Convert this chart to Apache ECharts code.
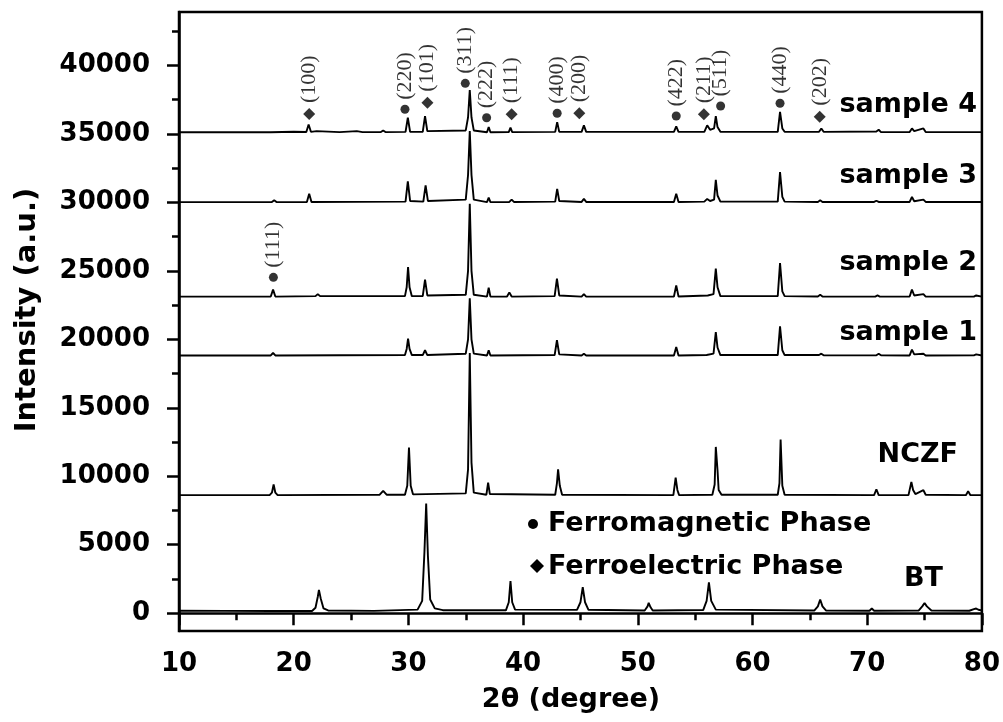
<!DOCTYPE html>
<html>
<head>
<meta charset="utf-8">
<script src="https://cdn.jsdelivr.net/npm/echarts@6/dist/echarts.min.js"></script>
<style>html,body{margin:0;padding:0;background:#fff;}#chart{width:1003px;height:722px;}</style>
</head>
<body>
<div id="chart"></div>
<script>
// ---- data: [2theta (deg), intensity] ----
var BT = [[10,180],[14,170],[18,160],[21.6,165],[21.9,400],[22.1,1200],[22.2,1700],[22.35,1100],[22.6,350],[23,200],[27,170],[30.8,260],[31.2,900],[31.4,4500],[31.55,8000],[31.7,4200],[31.9,1000],[32.3,350],[33,220],[38.5,210],[38.75,800],[38.9,2350],[39.05,800],[39.3,260],[44.7,240],[45.0,800],[45.2,1900],[45.4,800],[45.7,250],[50.6,200],[50.85,500],[50.95,750],[51.1,450],[51.3,200],[55.7,230],[56.0,900],[56.2,2250],[56.4,900],[56.8,260],[65.4,200],[65.7,500],[65.9,1000],[66.1,500],[66.4,200],[70.2,180],[70.4,340],[70.6,180],[74.5,200],[74.8,500],[75.0,750],[75.2,500],[75.6,200],[78.9,180],[79.3,300],[79.5,340],[79.7,250],[80,200]];
var NCZF = [[10,8620],[17.9,8620],[18.1,8800],[18.25,9400],[18.4,8800],[18.6,8620],[27.5,8650],[27.8,8930],[28.1,8650],[29.7,8650],[29.9,9300],[30.05,12100],[30.2,9300],[30.4,8680],[35.0,8750],[35.2,10500],[35.35,19000],[35.5,11000],[35.7,8800],[36.8,8650],[36.95,9540],[37.1,8700],[42.8,8650],[42.95,9500],[43.05,10500],[43.2,9300],[43.4,8650],[53.1,8620],[53.3,9900],[53.45,9000],[53.6,8620],[56.5,8650],[56.7,9400],[56.8,12140],[56.95,10440],[57.05,9000],[57.3,8650],[62.2,8650],[62.35,9500],[62.45,12680],[62.6,9300],[62.8,8650],[70.6,8620],[70.8,9050],[71.0,8620],[73.6,8620],[73.85,9580],[74.0,9000],[74.2,8700],[74.9,8980],[75.1,8650],[78.6,8620],[78.8,8900],[79.0,8620],[80,8620]];
var sample1 = [[10,18820],[18.0,18820],[18.2,19000],[18.4,18820],[29.7,18850],[29.85,19300],[29.97,20050],[30.1,19300],[30.3,18850],[31.25,18850],[31.45,19200],[31.65,18850],[35.0,18950],[35.2,20000],[35.35,23000],[35.5,20000],[35.7,18950],[36.85,18820],[37.0,19200],[37.15,18820],[42.75,18850],[42.95,19930],[43.15,18900],[45.1,18820],[45.3,18950],[45.5,18820],[53.15,18820],[53.35,19440],[53.55,18820],[56.0,18850],[56.6,18950],[56.8,20530],[56.95,19400],[57.2,18850],[62.2,18850],[62.4,20950],[62.6,19200],[62.8,18850],[65.8,18850],[66.0,18950],[66.2,18830],[70.8,18840],[71.0,18950],[71.2,18830],[73.7,18820],[73.9,19250],[74.1,18900],[74.9,18950],[75.1,18820],[79.3,18830],[79.5,18900],[80,18820]];
var sample2 = [[10,23120],[18.0,23120],[18.2,23630],[18.4,23120],[21.9,23150],[22.1,23300],[22.3,23150],[29.7,23150],[29.85,23800],[29.97,25280],[30.1,23800],[30.3,23150],[31.25,23150],[31.45,24350],[31.65,23200],[35.0,23250],[35.2,25000],[35.35,29900],[35.5,25000],[35.7,23250],[36.85,23120],[37.0,23770],[37.15,23120],[38.6,23120],[38.8,23430],[39.0,23120],[42.75,23150],[42.95,24430],[43.15,23200],[45.1,23120],[45.3,23300],[45.5,23120],[53.15,23130],[53.35,23940],[53.55,23130],[56.1,23200],[56.6,23300],[56.8,25160],[56.95,23800],[57.2,23150],[62.2,23150],[62.4,25570],[62.6,23500],[62.8,23150],[65.7,23130],[65.9,23250],[66.1,23120],[70.7,23120],[70.9,23200],[71.1,23120],[73.7,23120],[73.9,23630],[74.1,23200],[74.9,23300],[75.1,23120],[79.3,23120],[79.5,23200],[80,23120]];
var sample3 = [[10,30020],[18.1,30020],[18.3,30150],[18.5,30020],[21.15,30030],[21.35,30630],[21.55,30030],[29.75,30050],[29.95,31530],[30.15,30100],[31.3,30050],[31.5,31240],[31.7,30100],[35.0,30200],[35.2,32000],[35.35,35200],[35.5,32000],[35.7,30200],[36.85,30020],[37.0,30340],[37.15,30020],[38.8,30030],[39.0,30200],[39.2,30030],[42.8,30050],[42.97,30990],[43.15,30100],[45.1,30030],[45.3,30250],[45.5,30030],[53.15,30030],[53.35,30630],[53.55,30030],[55.8,30050],[56.05,30250],[56.3,30100],[56.65,30200],[56.8,31650],[56.95,30500],[57.2,30050],[62.2,30050],[62.4,32210],[62.6,30400],[62.8,30050],[65.7,30030],[65.9,30150],[66.1,30030],[70.6,30030],[70.8,30120],[71.0,30030],[73.7,30030],[73.9,30390],[74.1,30080],[74.9,30200],[75.1,30030],[80,30030]];
var sample4 = [[10,35120],[18,35120],[20,35160],[21.1,35140],[21.3,35690],[21.5,35150],[22,35200],[24,35130],[25.5,35200],[26,35130],[27.6,35130],[27.8,35250],[28,35130],[29.75,35150],[29.95,36180],[30.15,35150],[31.25,35150],[31.45,36300],[31.65,35200],[35.0,35250],[35.2,36200],[35.35,38200],[35.5,36200],[35.7,35250],[36.85,35120],[37.0,35500],[37.15,35120],[38.75,35130],[38.9,35450],[39.05,35130],[42.8,35150],[42.97,35860],[43.15,35150],[45.1,35150],[45.3,35620],[45.5,35150],[53.15,35150],[53.35,35550],[53.55,35150],[55.8,35150],[56.05,35630],[56.3,35300],[56.65,35400],[56.8,36300],[56.95,35500],[57.2,35150],[62.2,35150],[62.4,36600],[62.6,35400],[62.8,35150],[65.8,35150],[66.0,35400],[66.2,35150],[70.8,35170],[71.0,35300],[71.2,35130],[73.7,35130],[73.9,35400],[74.1,35200],[74.9,35400],[75.1,35130],[80,35130]];

// phase markers: [2theta, intensity, label]
var ferromagneticMarks = [[29.7,36795,'(220)'],[34.96,38693,'(311)'],[36.82,36181,'(222)'],[42.97,36503,'(400)'],[53.35,36305,'(422)'],[57.22,37036,'(511)'],[62.4,37233,'(440)'],[18.23,24527,'(111)']];
var ferroelectricMarks = [[21.35,36452,'(100)'],[31.66,37277,'(101)'],[39.0,36430,'(111)'],[44.9,36503,'(200)'],[55.76,36430,'(211)'],[65.86,36255,'(202)']];

var seriesNames = ['BT','NCZF','sample 1','sample 2','sample 3','sample 4'];
var seriesData = [BT, NCZF, sample1, sample2, sample3, sample4];

var yMajor = [0,5000,10000,15000,20000,25000,30000,35000,40000];
var yMinor = [2500,7500,12500,17500,22500,27500,32500,37500,42500];

var FONT = '"DejaVu Sans", sans-serif';

var chart = echarts.init(document.getElementById('chart'), null, {renderer:'canvas'});

var series = seriesData.map(function(d, i){
  return {
    name: seriesNames[i], type:'line', data:d, showSymbol:false, symbol:'none',
    lineStyle:{color:'#000', width:1.9}, silent:true, z:2
  };
});

function markSeries(arr, symbol, size){
  return {
    type:'scatter', symbol:symbol, symbolSize:size,
    itemStyle:{color:'#000'}, z:3,
    data: arr.map(function(m){ return {name:m[2], value:[m[0], m[1]]}; }),
    label:{
      show:true, formatter:'{b}', position:'top', distance:5, rotate:90,
      align:'left', verticalAlign:'middle',
      fontFamily:'"Liberation Serif", serif', fontSize:22, color:'#000'
    }
  };
}
series.push(markSeries(ferromagneticMarks, 'circle', 9));
series.push(markSeries(ferroelectricMarks, 'diamond', 12));

var labelStyle = {fontFamily:FONT, fontWeight:'bold', fontSize:26, color:'#000'};
function plain(v){ return String(v); }

var option = {
  animation:false,
  backgroundColor:'#fff',
  grid:{left:179, right:21, top:12, bottom:91, show:true, borderColor:'#000', borderWidth:2.5, backgroundColor:'transparent'},
  xAxis:{
    type:'value', min:10, max:80, interval:10,
    axisLine:{lineStyle:{color:'#000', width:2.5}},
    axisTick:{show:true, length:12, lineStyle:{color:'#000', width:2.5}},
    minorTick:{show:true, splitNumber:2, length:7, lineStyle:{color:'#000', width:2.5}},
    axisLabel:Object.assign({margin:20, formatter:plain}, labelStyle),
    splitLine:{show:false}
  },
  yAxis:[{
    type:'value', min:-1300, max:43900,
    axisLine:{show:true, lineStyle:{color:'#000', width:2.5}},
    axisTick:{show:true, length:12, customValues:yMajor, lineStyle:{color:'#000', width:2.5}},
    axisLabel:Object.assign({margin:29, customValues:yMajor, formatter:plain}, labelStyle),
    splitLine:{show:false}
  },{
    type:'value', min:-1300, max:43900, position:'left',
    axisLine:{show:false},
    axisTick:{show:true, length:7, customValues:yMinor, lineStyle:{color:'#000', width:2.5}},
    axisLabel:{show:false},
    splitLine:{show:false}
  }],
  series:series,
  graphic:[
    {type:'text', x:27, y:310, rotation:Math.PI/2, style:{text:'Intensity (a.u.)', font:'bold 29px ' + FONT, fill:'#000', textAlign:'center', textVerticalAlign:'middle'}},
    {type:'text', x:571, y:700, style:{text:'2θ (degree)', font:'bold 27px ' + FONT, fill:'#000', textAlign:'center', textVerticalAlign:'middle'}},
    {type:'text', x:977, y:105, style:{text:'sample 4', font:'bold 27px ' + FONT, fill:'#000', textAlign:'right', textVerticalAlign:'middle'}},
    {type:'text', x:977, y:176, style:{text:'sample 3', font:'bold 27px ' + FONT, fill:'#000', textAlign:'right', textVerticalAlign:'middle'}},
    {type:'text', x:977, y:263, style:{text:'sample 2', font:'bold 27px ' + FONT, fill:'#000', textAlign:'right', textVerticalAlign:'middle'}},
    {type:'text', x:977, y:333, style:{text:'sample 1', font:'bold 27px ' + FONT, fill:'#000', textAlign:'right', textVerticalAlign:'middle'}},
    {type:'text', x:958, y:455, style:{text:'NCZF', font:'bold 27px ' + FONT, fill:'#000', textAlign:'right', textVerticalAlign:'middle'}},
    {type:'text', x:943, y:579, style:{text:'BT', font:'bold 27px ' + FONT, fill:'#000', textAlign:'right', textVerticalAlign:'middle'}},
    {type:'circle', shape:{cx:533, cy:524, r:5}, style:{fill:'#000'}},
    {type:'text', x:548, y:524, style:{text:'Ferromagnetic Phase', font:'bold 27px ' + FONT, fill:'#000', textAlign:'left', textVerticalAlign:'middle'}},
    {type:'polygon', shape:{points:[[537,559],[544,566],[537,573],[530,566]]}, style:{fill:'#000'}},
    {type:'text', x:548, y:567, style:{text:'Ferroelectric Phase', font:'bold 27px ' + FONT, fill:'#000', textAlign:'left', textVerticalAlign:'middle'}}
  ]
};
chart.setOption(option);
</script>
</body>
</html>
